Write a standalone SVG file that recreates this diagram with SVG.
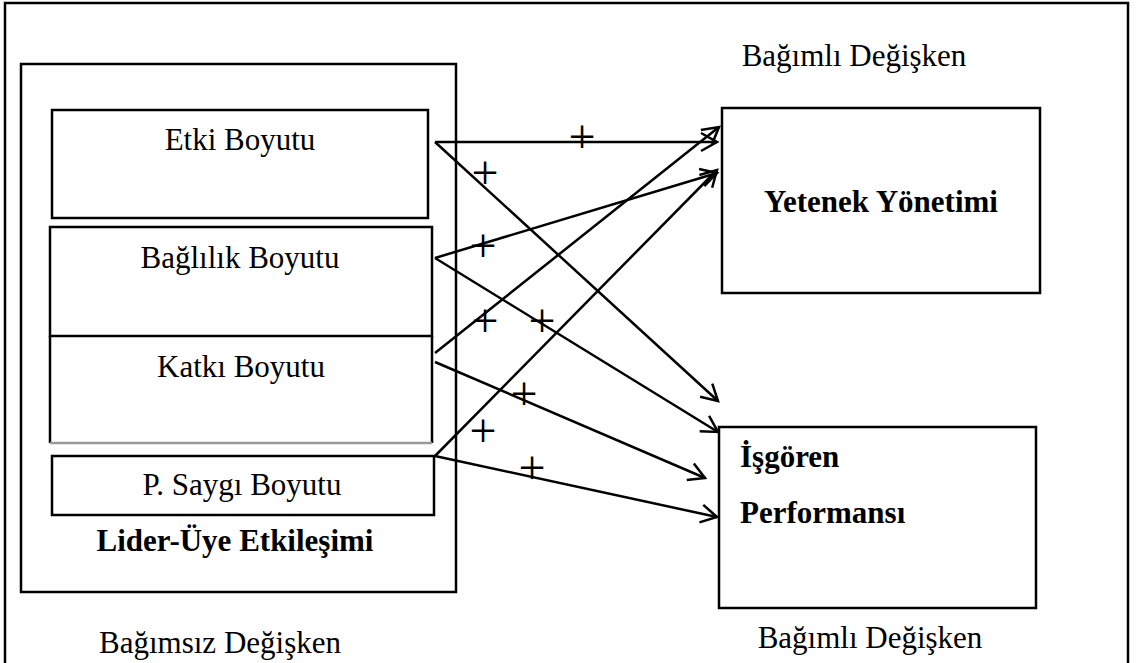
<svg xmlns="http://www.w3.org/2000/svg" width="1136" height="663" viewBox="0 0 1136 663">
  <style>
    .box { fill: #fff; stroke: #000; stroke-width: 2.5; }
    .frame { fill: none; stroke: #000; stroke-width: 2.5; }
    .lbl { font-family: "Liberation Serif", "Times New Roman", serif; font-size: 31px; fill: #000; }
    .c { text-anchor: middle; }
    .b { font-weight: bold; }
    .plus { font-family: "Liberation Serif", "Times New Roman", serif; font-size: 48px; text-anchor: middle; fill: #000; }
    .edge { fill: none; stroke: #000; stroke-width: 2.5; marker-end: url(#head); }
  </style>
  <defs>
    <marker id="head" viewBox="-18 -11 21 22" refX="0" refY="0" markerWidth="21" markerHeight="22" markerUnits="userSpaceOnUse" orient="auto">
      <path d="M-16,-9 L0,0 L-16,9" fill="none" stroke="#000" stroke-width="2.5"/>
    </marker>
  </defs>

  <rect width="1136" height="663" fill="#fff"/>
  <!-- outer frame -->
  <rect class="frame" x="5" y="3" width="1123" height="700"/>

  <!-- independent variable: leader-member exchange -->
  <g id="lmx">
    <rect class="box" x="21" y="64" width="435" height="528"/>
    <text class="lbl b c" x="235" y="551">Lider-Üye Etkileşimi</text>
  </g>
  <g id="etki">
    <rect class="box" x="52" y="110" width="376" height="108"/>
    <text class="lbl c" x="240" y="150">Etki Boyutu</text>
  </g>
  <g id="baglilik">
    <rect class="box" x="50" y="227" width="382" height="109"/>
    <text class="lbl c" x="240" y="268">Bağlılık Boyutu</text>
  </g>
  <g id="katki">
    <path d="M50,336 V443 M432,336 V443" stroke="#000" stroke-width="2.5" fill="none"/>
    <line x1="50" y1="443" x2="432" y2="443" stroke="#9a9a9a" stroke-width="2.5"/>
    <text class="lbl c" x="241" y="377">Katkı Boyutu</text>
  </g>
  <g id="saygi">
    <rect class="box" x="52" y="456" width="382" height="59"/>
    <text class="lbl c" x="242" y="495">P. Saygı Boyutu</text>
  </g>
  <text class="lbl c" x="220" y="653">Bağımsız Değişken</text>

  <!-- dependent variables -->
  <text class="lbl c" x="854" y="66">Bağımlı Değişken</text>
  <g id="yetenek">
    <rect class="box" x="722" y="108" width="318" height="185"/>
    <text class="lbl b c" x="881" y="212">Yetenek Yönetimi</text>
  </g>
  <g id="isgoren">
    <rect class="box" x="719" y="427" width="317" height="181"/>
    <text class="lbl b" x="740" y="467">İşgören</text>
    <text class="lbl b" x="740" y="523">Performansı</text>
  </g>
  <text class="lbl c" x="870" y="648">Bağımlı Değişken</text>

  <!-- connectors -->
  <g id="connectors">
    <line class="edge" x1="435" y1="142" x2="717" y2="142"/>
    <line class="edge" x1="435" y1="142" x2="718" y2="401"/>
    <line class="edge" x1="435" y1="258" x2="717" y2="173"/>
    <line class="edge" x1="435" y1="258" x2="718" y2="432"/>
    <line class="edge" x1="435" y1="353" x2="719" y2="127"/>
    <line class="edge" x1="435" y1="362" x2="705" y2="478"/>
    <line class="edge" x1="435" y1="456" x2="717" y2="170"/>
    <line class="edge" x1="435" y1="456" x2="717" y2="517"/>
  </g>

  <!-- sign labels -->
  <g id="signs">
    <text class="plus" x="582" y="153">+</text>
    <text class="plus" x="485" y="189">+</text>
    <text class="plus" x="483" y="262">+</text>
    <text class="plus" x="485" y="337">+</text>
    <text class="plus" x="542" y="337">+</text>
    <text class="plus" x="524" y="410">+</text>
    <text class="plus" x="483" y="447">+</text>
    <text class="plus" x="532" y="484">+</text>
  </g>
</svg>
